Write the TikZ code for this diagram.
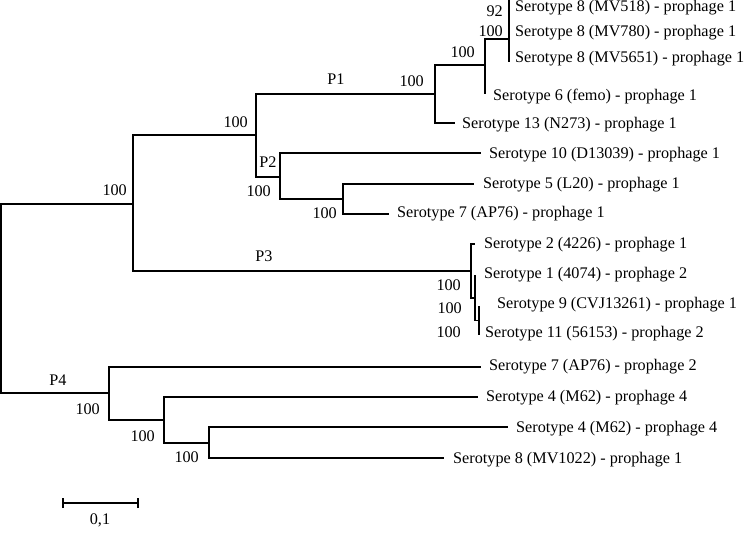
\documentclass[tikz,border=0pt]{standalone}
\usepackage{fontspec}
\setmainfont{Liberation Serif}
\begin{document}
\begin{tikzpicture}[x=1pt,y=-1pt,
  edge/.style={line width=1.2pt,line cap=rect},
  txt/.style={inner sep=0pt,font=\fontsize{16.2}{19}\selectfont},
  leaf/.style={txt,anchor=west},
  boot/.style={txt,anchor=east},
  grp/.style={txt}]
\useasboundingbox (0,0) rectangle (745,541);
% internal nodes
\coordinate (R) at (1,298.5);
\coordinate (A) at (133,204);
\coordinate (B) at (256,135);
\coordinate (C) at (435,94);
\coordinate (E) at (485,65);
\coordinate (F) at (509,39);
\coordinate (G) at (509,18);
\coordinate (D) at (280,177);
\coordinate (I) at (343,199);
\coordinate (N1) at (471,271);
\coordinate (N2) at (475,298);
\coordinate (N3) at (479,320.5);
\coordinate (J) at (109,393);
\coordinate (K) at (164,420);
\coordinate (L) at (209,443);
% leaf ends
\coordinate (l1) at (509,1);
\coordinate (l2) at (509,32);
\coordinate (l3) at (509,61);
\coordinate (l4) at (485,93);
\coordinate (l5) at (454,123);
\coordinate (l6) at (480,153);
\coordinate (l7) at (473,184);
\coordinate (l8) at (388,214);
\coordinate (l9) at (474,244);
\coordinate (l10) at (475,276);
\coordinate (l11) at (479,307);
\coordinate (l12) at (479,334);
\coordinate (l13) at (480,367);
\coordinate (l14) at (477,397);
\coordinate (l15) at (507,427);
\coordinate (l16) at (443,458);
% edges
\draw[edge] (R) |- (A); \draw[edge] (R) |- (J);
\draw[edge] (A) |- (B); \draw[edge] (A) |- (N1);
\draw[edge] (B) |- (C); \draw[edge] (B) |- (D);
\draw[edge] (C) |- (E); \draw[edge] (C) |- (l5);
\draw[edge] (E) |- (F); \draw[edge] (E) |- (l4);
\draw[edge] (F) |- (G); \draw[edge] (F) |- (l3);
\draw[edge] (G) |- (l1); \draw[edge] (G) |- (l2);
\draw[edge] (D) |- (l6); \draw[edge] (D) |- (I);
\draw[edge] (I) |- (l7); \draw[edge] (I) |- (l8);
\draw[edge] (N1) |- (l9); \draw[edge] (N1) |- (N2);
\draw[edge] (N2) |- (l10); \draw[edge] (N2) |- (N3);
\draw[edge] (N3) |- (l11); \draw[edge] (N3) |- (l12);
\draw[edge] (J) |- (l13); \draw[edge] (J) |- (K);
\draw[edge] (K) |- (l14); \draw[edge] (K) |- (L);
\draw[edge] (L) |- (l15); \draw[edge] (L) |- (l16);
% leaf labels
\node[leaf] (t1) at (515,8) {Serotype 8 (MV518) - prophage 1};
\node[leaf] (t2) at (515,33) {Serotype 8 (MV780) - prophage 1};
\node[leaf] (t3) at (515,59) {Serotype 8 (MV5651) - prophage 1};
\node[leaf] (t4) at (493,97) {Serotype 6 (femo) - prophage 1};
\node[leaf] (t5) at (462,125) {Serotype 13 (N273) - prophage 1};
\node[leaf] (t6) at (489,155) {Serotype 10 (D13039) - prophage 1};
\node[leaf] (t7) at (483,185) {Serotype 5 (L20) - prophage 1};
\node[leaf] (t8) at (397,214) {Serotype 7 (AP76) - prophage 1};
\node[leaf] (t9) at (484,245) {Serotype 2 (4226) - prophage 1};
\node[leaf] (t10) at (484,275) {Serotype 1 (4074) - prophage 2};
\node[leaf] (t11) at (497,305) {Serotype 9 (CVJ13261) - prophage 1};
\node[leaf] (t12) at (485,334) {Serotype 11 (56153) - prophage 2};
\node[leaf] (t13) at (489,367) {Serotype 7 (AP76) - prophage 2};
\node[leaf] (t14) at (486,398) {Serotype 4 (M62) - prophage 4};
\node[leaf] (t15) at (516,429) {Serotype 4 (M62) - prophage 4};
\node[leaf] (t16) at (453,460) {Serotype 8 (MV1022) - prophage 1};
% bootstrap values
\node[boot] (bG) at (503,11) {92};
\node[boot] (bF) at (503,31) {100};
\node[boot] (bE) at (475,52) {100};
\node[boot] (bC) at (424,81) {100};
\node[boot] (bB) at (248,122) {100};
\node[boot] (bA) at (127,190) {100};
\node[boot] (bD) at (271,191) {100};
\node[boot] (bI) at (337,213) {100};
\node[boot] (bN1) at (461,285) {100};
\node[boot] (bN2) at (462,308) {100};
\node[boot] (bN3) at (461,332) {100};
\node[boot] (bJ) at (100,409) {100};
\node[boot] (bK) at (155,436) {100};
\node[boot] (bL) at (199,457) {100};
% group labels
\node[grp] (p1) at (336,79) {P1};
\node[grp] (p2) at (268,162) {P2};
\node[grp] (p3) at (264,256) {P3};
\node[grp] (p4) at (58,380) {P4};
% scale bar
\coordinate (s1) at (63,503);
\coordinate (s2) at (138,503);
\draw[edge,line cap=butt] (s1) -- (s2);
\draw[edge,line cap=butt] ([yshift=-5]s1) -- ([yshift=5]s1);
\draw[edge,line cap=butt] ([yshift=-5]s2) -- ([yshift=5]s2);
\node[txt] (sl) at (100,520) {0,1};
\end{tikzpicture}
\end{document}
